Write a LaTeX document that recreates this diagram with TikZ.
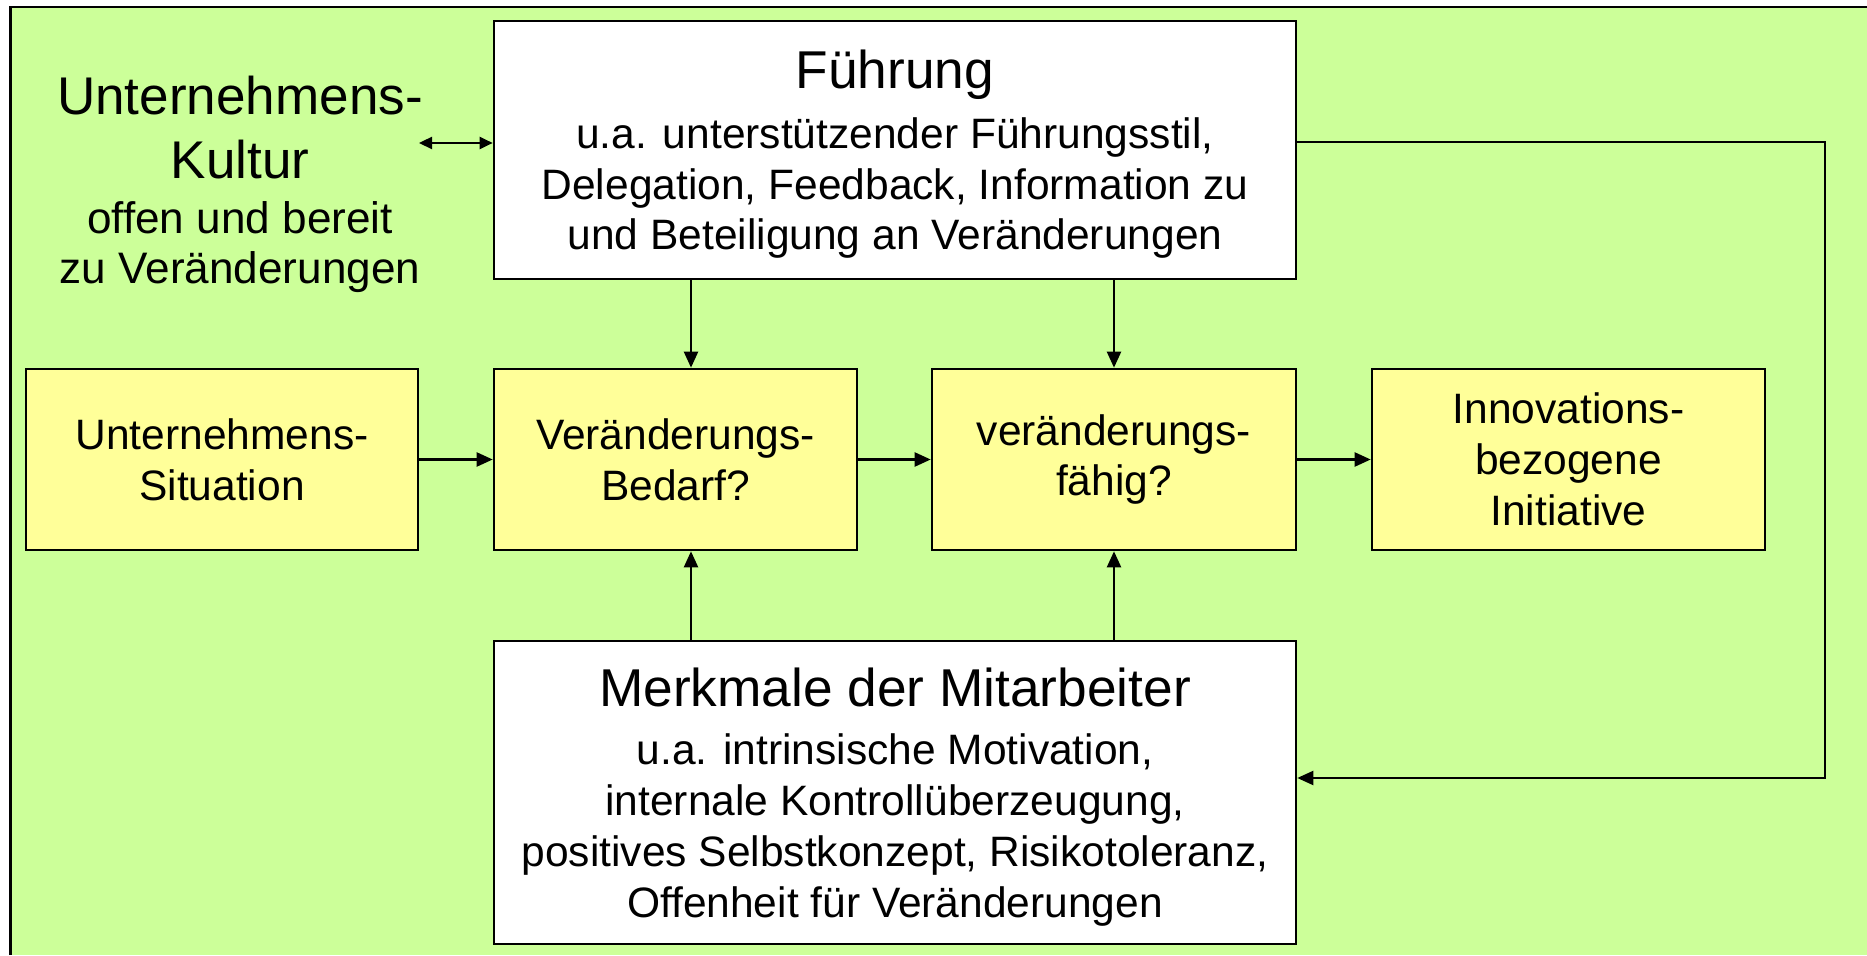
\documentclass[tikz,border=0pt]{standalone}
\usepackage{fontspec}
\setmainfont{Liberation Sans}
\usetikzlibrary{arrows.meta,positioning}
\definecolor{bggreen}{RGB}{204,255,153}
\definecolor{boxyellow}{RGB}{255,255,153}
\newcommand{\titlefont}{\fontsize{30.3}{34}\selectfont}
\newcommand{\culturefont}{\fontsize{30.2}{34}\selectfont}
\tikzset{
  frame/.style={black,line width=1.5pt},
  flow/.style={-{Triangle[length=3.2mm,width=2.8mm]},line width=1.3pt},
  twoway/.style={{Triangle[length=2.6mm,width=2.4mm]}-{Triangle[length=2.6mm,width=2.4mm]},line width=1.3pt},
  block/.style={draw=black,line width=1.5pt,fill=white,align=center,inner sep=0pt,
                font=\fontsize{24.2}{28.9}\selectfont},
  factor/.style={block,fill=boxyellow,minimum height=36.2mm,font=\fontsize{24.2}{29}\selectfont},
  label/.style={align=center,inner sep=0pt,font=\fontsize{25.1}{28.3}\selectfont},
}
\begin{document}
\begin{tikzpicture}[x=1cm,y=1cm]
  \path[use as bounding box] (0,0) rectangle (37.34,19.10);
  % background panel, only left and top edges visible
  \fill[bggreen] (0.21,0) rectangle (37.34,18.96);
  \draw[frame] (0.21,0) -- (0.21,18.96) -- (37.34,18.96);

  % the strut on the title line pushes the text a little lower in the box
  \node[block,minimum width=160.4mm,minimum height=51.6mm] (fuehr) at (17.90,16.10)
    {{\titlefont\rule{0pt}{27pt}Führung}\\[5pt]
     u.a. unterstützender Führungsstil,\\
     Delegation, Feedback, Information zu\\
     und Beteiligung an Veränderungen};
  \node[block,minimum width=160.4mm,minimum height=60.6mm] (merk) at (17.90,3.25)
    {{\titlefont\rule{0pt}{27pt}Merkmale der Mitarbeiter}\\[4.2pt]
     u.a. intrinsische Motivation,\\
     internale Kontrollüberzeugung,\\
     positives Selbstkonzept, Risikotoleranz,\\
     Offenheit für Veränderungen};

  \node[factor,minimum width=78.4mm] (sit) at (4.44,9.91) {Unternehmens-\\Situation};
  \node[factor,minimum width=72.6mm] (bedarf) at (13.51,9.91) {Veränderungs-\\Bedarf?};
  \node[factor,minimum width=72.8mm] (faehig) at (22.28,9.91) {veränderungs-\\fähig?};
  \node[factor,minimum width=78.6mm] (init) at (31.37,9.91) {Innovations-\\bezogene\\Initiative};

  \node[label] (kultur) at (4.80,15.42)
    {{\culturefont Unternehmens-}\\[8.5pt]
     {\culturefont Kultur}\\[2.9pt]
     offen und bereit\\
     zu Veränderungen};

  % helper points for the connectors
  \coordinate (kult) at (8.38,16.24);
  \coordinate (colA) at (13.82,0);
  \coordinate (colB) at (22.28,0);
  \coordinate (fbtop) at (36.50,16.26);
  \coordinate (fbbot) at (36.50,3.54);

  \draw[twoway] (kult) -- (kult -| fuehr.west);
  \draw[flow] (sit.east) -- (bedarf.west);
  \draw[flow] (bedarf.east) -- (faehig.west);
  \draw[flow] (faehig.east) -- (init.west);
  \draw[flow] (fuehr.south -| colA) -- (bedarf.north -| colA);
  \draw[flow] (fuehr.south -| colB) -- (faehig.north -| colB);
  \draw[flow] (merk.north -| colA) -- (bedarf.south -| colA);
  \draw[flow] (merk.north -| colB) -- (faehig.south -| colB);
  \draw[flow] (fbtop -| fuehr.east) -- (fbtop) -- (fbbot) -- (fbbot -| merk.east);
\end{tikzpicture}
\end{document}
